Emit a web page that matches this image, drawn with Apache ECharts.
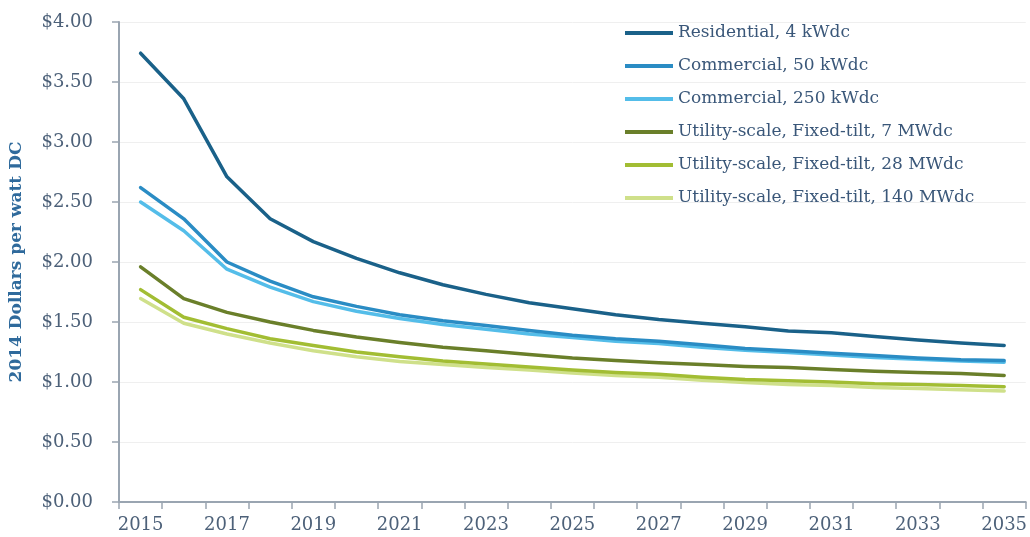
<!DOCTYPE html>
<html>
<head>
<meta charset="utf-8">
<script src="https://cdn.jsdelivr.net/npm/echarts@6/dist/echarts.min.js"></script>
<style>
html,body{margin:0;padding:0;background:#fff;}
#chart{width:1030px;height:537px;}
</style>
</head>
<body>
<div id="chart"></div>
<script>
const years = ['2015','2016','2017','2018','2019','2020','2021','2022','2023','2024','2025','2026','2027','2028','2029','2030','2031','2032','2033','2034','2035'];
const residential4 = [3.74,3.36,2.71,2.36,2.17,2.03,1.91,1.81,1.73,1.66,1.61,1.56,1.52,1.49,1.46,1.425,1.41,1.38,1.35,1.325,1.305];
const commercial50 = [2.62,2.36,2.00,1.84,1.71,1.63,1.56,1.51,1.47,1.43,1.39,1.36,1.34,1.31,1.28,1.26,1.24,1.22,1.20,1.185,1.18];
const commercial250 = [2.50,2.26,1.94,1.79,1.67,1.59,1.53,1.48,1.44,1.40,1.37,1.34,1.32,1.29,1.265,1.245,1.225,1.205,1.19,1.175,1.165];
const utility7 = [1.96,1.695,1.58,1.50,1.43,1.375,1.33,1.29,1.26,1.23,1.20,1.18,1.16,1.145,1.13,1.12,1.105,1.09,1.08,1.07,1.055];
const utility28 = [1.77,1.54,1.445,1.36,1.305,1.25,1.21,1.175,1.15,1.125,1.10,1.08,1.065,1.04,1.02,1.01,1.00,0.985,0.98,0.97,0.96];
const utility140 = [1.695,1.49,1.40,1.325,1.26,1.21,1.17,1.145,1.12,1.10,1.075,1.055,1.04,1.015,0.995,0.98,0.97,0.955,0.945,0.935,0.925];
const seriesNames = ['Residential, 4 kWdc','Commercial, 50 kWdc','Commercial, 250 kWdc','Utility-scale, Fixed-tilt, 7 MWdc','Utility-scale, Fixed-tilt, 28 MWdc','Utility-scale, Fixed-tilt, 140 MWdc'];
const seriesData = [residential4, commercial50, commercial250, utility7, utility28, utility140];
const colors = ['#1a6189','#2a8cc4','#54bde9','#6a7f2a','#a2bd33','#cfe08a'];
const yAxisTitle = '2014 Dollars per watt DC';

const FONT = '"DejaVu Serif", serif';
const chart = echarts.init(document.getElementById('chart'));
chart.setOption({
  animation: false,
  backgroundColor: '#ffffff',
  grid: {left: 118, right: 2, top: 22, bottom: 35, containLabel: false},
  legend: {
    orient: 'vertical',
    left: 620, top: 18,
    itemWidth: 48, itemHeight: 4,
    itemGap: 13,
    icon: 'rect',
    textStyle: {fontFamily: FONT, fontSize: 17, color: '#3a5779', lineHeight: 20},
    data: seriesNames
  },
  xAxis: {
    type: 'category',
    data: years,
    boundaryGap: true,
    axisLine: {lineStyle: {color: '#9aa5b1', width: 2}},
    axisTick: {show: true, length: 7, interval: 0, lineStyle: {color: '#9aa5b1', width: 1.5}},
    axisLabel: {interval: 1, margin: 14, fontFamily: FONT, fontSize: 18, color: '#4d6179'},
    splitLine: {show: false}
  },
  yAxis: {
    type: 'value',
    min: 0, max: 4, interval: 0.5,
    name: yAxisTitle,
    nameLocation: 'middle',
    nameGap: 94,
    nameTextStyle: {fontFamily: FONT, fontSize: 17, fontWeight: 'bold', color: '#2f6a9c'},
    axisLine: {show: true, lineStyle: {color: '#9aa5b1', width: 2}},
    axisTick: {show: true, length: 7, lineStyle: {color: '#9aa5b1', width: 1.5}},
    axisLabel: {margin: 26, fontFamily: FONT, fontSize: 18, color: '#4d6179', formatter: v => '$' + v.toFixed(2)},
    splitLine: {show: true, lineStyle: {color: '#efefef', width: 1}}
  },
  series: seriesNames.map((n, i) => ({
    name: n,
    type: 'line',
    data: seriesData[i],
    symbol: 'none',
    smooth: false,
    lineStyle: {color: colors[i], width: 3.5, join: 'round', cap: 'round'},
    itemStyle: {color: colors[i]},
    z: 10 - i
  }))
});
</script>
</body>
</html>
